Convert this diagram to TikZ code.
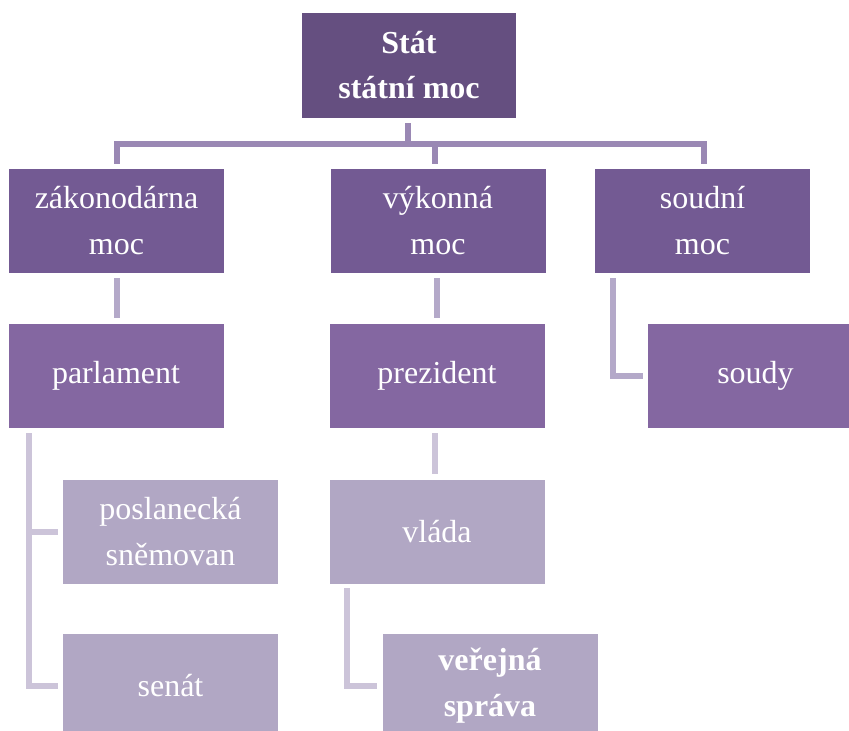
\documentclass[tikz,border=0pt]{standalone}
\usepackage{fontspec}
\setmainfont{Liberation Serif}
\definecolor{cTop}{HTML}{654F80}
\definecolor{cOne}{HTML}{735A93}
\definecolor{cTwo}{HTML}{8467A1}
\definecolor{cThree}{HTML}{B1A7C4}
\definecolor{lTop}{HTML}{9A88B4}
\definecolor{lOne}{HTML}{B4A9C9}
\definecolor{lTwo}{HTML}{CCC4D9}
\tikzset{
  box/.style={rectangle, inner sep=0pt, minimum width=215pt, minimum height=104pt,
    text=white, align=center, font=\fontsize{32}{46}\selectfont},
  topbox/.style={box, fill=cTop, minimum width=214pt, minimum height=105pt, font=\fontsize{32}{45}\selectfont\bfseries},
  onebox/.style={box, fill=cOne},
  twobox/.style={box, fill=cTwo},
  threebox/.style={box, fill=cThree},
  conn/.style={line width=6pt, line cap=butt, line join=miter},
}
\begin{document}
\begin{tikzpicture}[x=1pt, y=-1pt]
\useasboundingbox (0,0) rectangle (849,731);
\clip (0,0) rectangle (849,731);
\fill[white] (0,0) rectangle (849,731);
% boxes
\node[topbox] (stat) at (409,65.5) {Stát\\státní moc};
\node[onebox] (zak) at (116.5,221) {zákonodárna\\moc};
\node[onebox] (vyk) at (438,221) {výkonná\\moc};
\node[onebox] (sou) at (702.5,221) {soudní\\moc};
\node[twobox] (parl) at (116,376) {parlament};
\node[twobox] (prez) at (437,376) {prezident};
\node[twobox] (soudy) at (755.5,376) {soudy};
\node[threebox] (posl) at (170.5,531.5) {poslanecká\\sněmovan};
\node[threebox] (senat) at (170.5,686) {senát};
\node[threebox] (vlada) at (437,531.5) {vláda};
\node[threebox] (ver) at (490,686) {\bfseries veřejná\\\bfseries správa};
% coordinates for connectors
\coordinate (hub) at (408,144);
\coordinate (hl) at (114,144);
\coordinate (hr) at (707,144);
\coordinate (top1) at (408,123);
\coordinate (dz) at (116.5,164);
\coordinate (dv) at (434.5,164);
\coordinate (ds) at (703.5,164);
% top connector
\draw[conn, lTop] (top1) -- (hub);
\draw[conn, lTop] (hl) -- (hr);
\draw[conn, lTop] (dz |- hl) -- (dz);
\draw[conn, lTop] (dv |- hl) -- (dv);
\draw[conn, lTop] (ds |- hl) -- (ds);
% level 1 -> level 2
\coordinate (za) at (116.5,278);
\coordinate (zb) at (116.5,318);
\coordinate (va1) at (436.5,278);
\coordinate (vb1) at (436.5,318);
\draw[conn, lOne] (za) -- (zb);
\draw[conn, lOne] (va1) -- (vb1);
\coordinate (sa) at (612.5,278);
\draw[conn, lOne] (sa) |- ([xshift=-5pt]soudy.west);
% level 2 -> level 3
\coordinate (pa) at (29,433);
\draw[conn, lTwo] (pa) |- ([xshift=-5pt]senat.west);
\draw[conn, lTwo] (pa |- posl.west) -- ([xshift=-5pt]posl.west);
\coordinate (pv1) at (435,433);
\coordinate (pv2) at (435,474);
\draw[conn, lTwo] (pv1) -- (pv2);
\coordinate (va) at (347,588);
\draw[conn, lTwo] (va) |- ([xshift=-5pt]ver.west);
\end{tikzpicture}
\end{document}
